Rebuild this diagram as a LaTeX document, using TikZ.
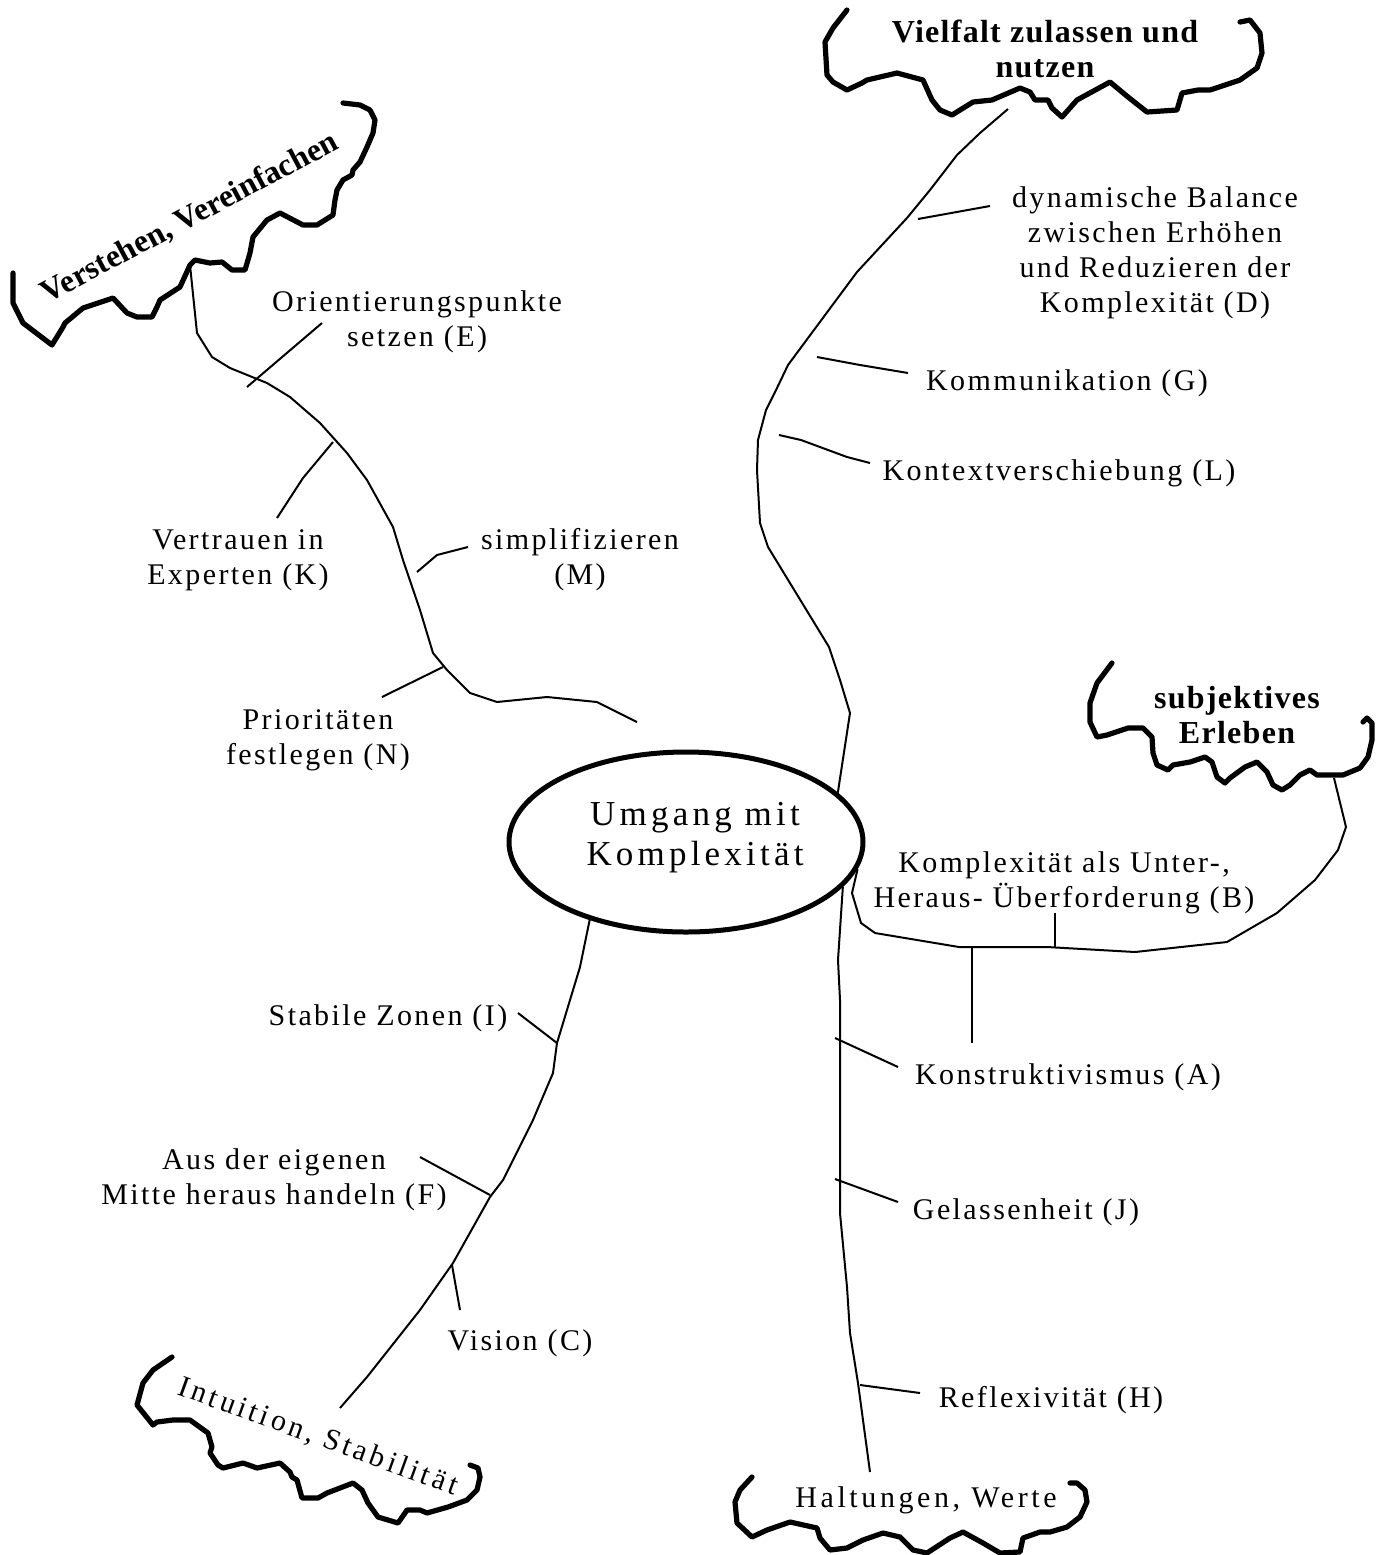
\documentclass[tikz,border=0pt]{standalone}
\usepackage{fontspec}
\setmainfont{Liberation Serif}
\newfontfamily\spaced[LetterSpace=8]{Liberation Serif}
\newfontfamily\widespaced[LetterSpace=12]{Liberation Serif}
\newfontfamily\boldspaced[LetterSpace=4]{Liberation Serif}
\usetikzlibrary{shapes.geometric}
\begin{document}
\begin{tikzpicture}[x=0.5pt,y=-0.5pt,
    branch/.style={line width=1pt,line join=round},
    tick/.style={line width=1pt},
    rim/.style={line width=2.6pt,line join=round,line cap=round},
    itemtxt/.style={font=\fontsize{15}{17.5}\selectfont\spaced,align=center,inner sep=0pt},
    areatxt/.style={font=\fontsize{16}{17.5}\selectfont\boldspaced\bfseries,align=center,inner sep=0pt},
    coretxt/.style={font=\fontsize{17.5}{20}\selectfont\widespaced,align=center,inner sep=0pt}]
  \useasboundingbox (0,0) rectangle (1387,1555);
  \node (core) [draw,ellipse,line width=2.5pt,minimum width=177pt,minimum height=90pt] at (686,842) {};
  \node (coretext) [coretxt] at (695,838) {Umgang mit\\Komplexität};

  \node (verstehen) [areatxt,font=\fontsize{16}{17.5}\selectfont\bfseries,rotate=28] at (190,218) {Verstehen, Vereinfachen};
  \node (vielfalt) [areatxt] at (1045,49) {Vielfalt zulassen und\\nutzen};
  \node (erleben) [areatxt] at (1237,715) {subjektives\\Erleben};
  \node (intuition) [itemtxt,font=\fontsize{15}{17.5}\selectfont\widespaced,rotate=-20] at (318,1437) {Intuition, Stabilität};
  \node (haltungen) [itemtxt,font=\fontsize{15}{17.5}\selectfont\widespaced] at (926,1500) {Haltungen, Werte};

  \node (itE) [itemtxt] at (417,322) {Orientierungspunkte\\setzen (E)};
  \node (itK) [itemtxt] at (238,560) {Vertrauen in\\Experten (K)};
  \node (itM) [itemtxt] at (580,560) {simplifizieren\\(M)};
  \node (itN) [itemtxt] at (318,740) {Prioritäten\\festlegen (N)};
  \node (itD) [itemtxt] at (1155,253) {dynamische Balance\\zwischen Erhöhen\\und Reduzieren der\\Komplexität (D)};
  \node (itG) [itemtxt] at (1067,383) {Kommunikation (G)};
  \node (itL) [itemtxt] at (1059,473) {Kontextverschiebung (L)};
  \node (itB) [itemtxt] at (1064,883) {Komplexität als Unter-,\\Heraus- Überforderung (B)};
  \node (itA) [itemtxt] at (1068,1077) {Konstruktivismus (A)};
  \node (itJ) [itemtxt] at (1026,1212) {Gelassenheit (J)};
  \node (itH) [itemtxt] at (1051,1400) {Reflexivität (H)};
  \node (itI) [itemtxt] at (388,1018) {Stabile Zonen (I)};
  \node (itF) [itemtxt] at (274,1180) {Aus der eigenen\\Mitte heraus handeln (F)};
  \node (itC) [itemtxt] at (520,1343) {Vision (C)};

  % clouds
  \draw[rim] (343,103) -- (360,105) -- (370,110) -- (375,120) -- (373,133) -- (367,147) -- (360,162)
    -- (353,170) -- (352,175) -- (343,180) -- (337,190) -- (335,200) -- (333,215) -- (317,225)
    -- (303,225) -- (280,213) -- (267,220) -- (253,237) -- (250,253) -- (245,270) -- (232,270)
    -- (222,262) -- (210,263) -- (195,260) -- (190,265) -- (180,287) -- (160,300) -- (157,307)
    -- (152,317) -- (137,317) -- (127,313) -- (113,298) -- (83,308) -- (65,323) -- (63,327)
    -- (52,345) -- (23,323) -- (13,303) -- (13,273);
  \draw[rim] (847,10) -- (833,28) -- (825,42) -- (827,75) -- (833,82) -- (847,90) -- (862,83)
    -- (867,80) -- (897,73) -- (923,80) -- (932,100) -- (940,110) -- (952,115) -- (973,102)
    -- (992,100) -- (1020,88) -- (1030,92) -- (1035,100) -- (1048,100) -- (1052,108) -- (1062,117)
    -- (1077,100) -- (1110,82) -- (1128,97) -- (1147,112) -- (1177,110) -- (1182,93) -- (1198,90)
    -- (1210,90) -- (1240,80) -- (1257,68) -- (1262,53) -- (1260,33) -- (1250,20) -- (1240,22);
  \draw[rim] (1112,663) -- (1097,683) -- (1090,703) -- (1090,722) -- (1097,737) -- (1107,735)
    -- (1128,728) -- (1143,728) -- (1152,737) -- (1153,753) -- (1157,765) -- (1168,770) -- (1173,765)
    -- (1190,762) -- (1205,757) -- (1212,762) -- (1217,777) -- (1225,783) -- (1230,778) -- (1245,767)
    -- (1257,762) -- (1267,772) -- (1273,785) -- (1282,790) -- (1290,785) -- (1300,775) -- (1310,770)
    -- (1317,775) -- (1327,775) -- (1343,775) -- (1360,768) -- (1368,757) -- (1372,740) -- (1372,723)
    -- (1367,718) -- (1363,722);
  \draw[rim] (172,1357) -- (153,1370) -- (143,1383) -- (137,1405) -- (145,1415) -- (153,1425)
    -- (157,1422) -- (173,1420) -- (190,1420) -- (208,1433) -- (212,1447) -- (210,1453) -- (218,1465)
    -- (223,1468) -- (243,1463) -- (257,1468) -- (280,1463) -- (290,1472) -- (292,1477) -- (297,1480)
    -- (302,1498) -- (318,1498) -- (327,1493) -- (353,1483) -- (362,1490) -- (368,1503) -- (378,1517)
    -- (398,1523) -- (405,1513) -- (407,1510) -- (420,1510) -- (427,1513) -- (448,1507) -- (467,1500)
    -- (477,1490) -- (480,1477) -- (478,1468) -- (470,1465);
  \draw[rim] (752,1477) -- (740,1490) -- (735,1502) -- (737,1523) -- (752,1537) -- (767,1530)
    -- (790,1522) -- (817,1528) -- (820,1538) -- (830,1550) -- (847,1548) -- (863,1540) -- (883,1533)
    -- (900,1537) -- (913,1550) -- (927,1553) -- (950,1538) -- (963,1532) -- (983,1543) -- (1000,1553)
    -- (1020,1552) -- (1023,1538) -- (1040,1532) -- (1050,1532) -- (1067,1527) -- (1080,1517)
    -- (1087,1502) -- (1085,1490) -- (1077,1483) -- (1070,1483);

  % branches
  \draw[branch] (190,265) -- (197,333) -- (212,357) -- (230,368) -- (267,383) -- (290,397)
    -- (320,423) -- (347,453) -- (367,480) -- (393,527) -- (403,560) -- (420,610) -- (433,653)
    -- (447,670) -- (470,693) -- (497,702) -- (547,697) -- (597,702) -- (637,722);
  \draw[branch] (core.18) -- (850,713) -- (840,680) -- (829,647) -- (768,547) -- (760,523)
    -- (757,470) -- (758,440) -- (766,410) -- (777,388) -- (788,365) -- (857,272) -- (907,218)
    -- (930,190) -- (957,155) -- (980,133) -- (1008,109);
  \draw[branch] (core.-9) -- (852,893) -- (861,923) -- (875,933) -- (959,947) -- (1047,947)
    -- (1135,952) -- (1227,942) -- (1277,913) -- (1315,880) -- (1338,850) -- (1346,827) -- (1334,778);
  \draw[branch] (core.-16) -- (838,960) -- (840,1000) -- (840,1213) -- (847,1287) -- (850,1333)
    -- (858,1383) -- (870,1472);
  \draw[branch] (core.219) -- (580,967) -- (557,1043) -- (553,1073) -- (533,1120) -- (503,1180)
    -- (490,1197) -- (453,1263) -- (420,1310) -- (367,1377) -- (340,1408);

  % ticks
  \draw[tick] (247,387) -- (322,323);
  \draw[tick] (333,442) -- (303,478) -- (277,518);
  \draw[tick] (417,572) -- (437,555) -- (468,547);
  \draw[tick] (443,667) -- (382,697);
  \draw[tick] (918,219) -- (990,206);
  \draw[tick] (817,357) -- (860,365) -- (908,373);
  \draw[tick] (779,435) -- (801,440) -- (847,457) -- (870,463);
  \draw[tick] (1055,947) -- (1055,913);
  \draw[tick] (972,947) -- (972,1043);
  \draw[tick] (835,1038) -- (898,1067);
  \draw[tick] (835,1179) -- (898,1202);
  \draw[tick] (860,1385) -- (920,1393);
  \draw[tick] (518,1013) -- (557,1043);
  \draw[tick] (420,1157) -- (490,1195);
  \draw[tick] (452,1265) -- (460,1310);
\end{tikzpicture}
\end{document}
